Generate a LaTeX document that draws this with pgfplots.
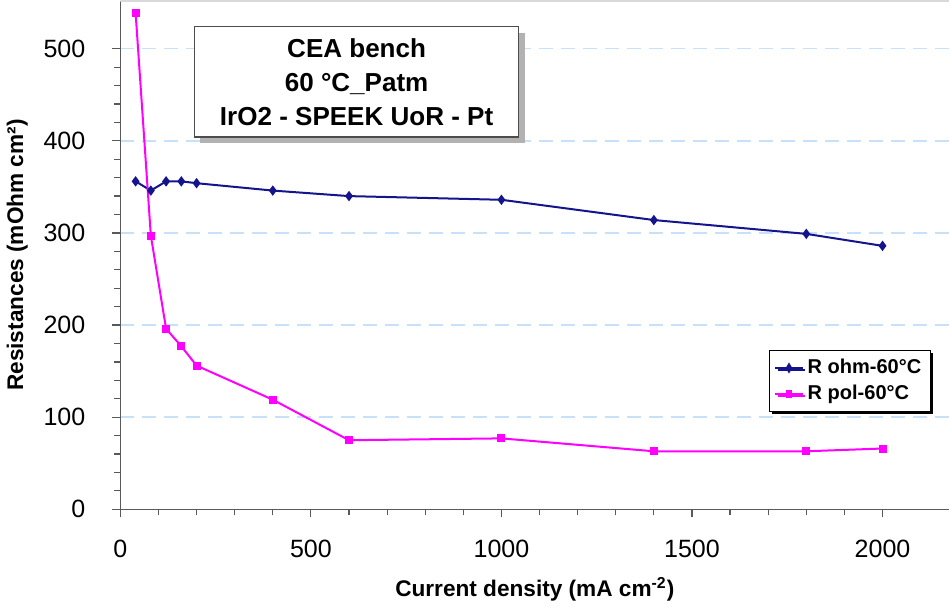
\documentclass[border=0pt]{standalone}
\usepackage{pgfplots}
\pgfplotsset{compat=1.18}
\usepackage{fontspec}
\setmainfont{Liberation Sans}
\usetikzlibrary{shadows}
\definecolor{ohm}{RGB}{20,20,140}
\definecolor{pol}{RGB}{255,0,255}
\definecolor{gridblue}{RGB}{200,225,250}
\begin{document}
\begin{tikzpicture}
\begin{axis}[
    scale only axis,
    width=414pt, height=254pt,
    xmin=0, xmax=2175, ymin=0, ymax=552,
    axis x line*=bottom, axis y line*=left,
    axis line style={gray!70!black, line width=0.8pt, -},
    xtick={0,500,...,2000}, ytick={0,100,...,500},
    minor x tick num=4, minor y tick num=4,
    tick align=outside,
    major tick length=4pt, minor tick length=3pt,
    tick style={gray!70!black, line width=0.6pt},
    ymajorgrids,
    major grid style={gridblue, dash pattern=on 7pt off 4pt, line width=0.7pt},
    /pgf/number format/assume math mode=true,
    /pgf/number format/1000 sep={},
    ticklabel style={font=\fontsize{12.5}{14}\selectfont},
    xticklabel style={yshift=-8pt},
    yticklabel style={xshift=-10pt},
    xlabel={\bfseries Current density (mA cm\textsuperscript{-2})},
    ylabel={\bfseries Resistances (mOhm cm²)},
    label style={font=\fontsize{11.3}{13}\selectfont},
    xlabel style={yshift=-3pt},
    ylabel style={yshift=1pt},
    legend style={at={(0.978,0.314)}, anchor=north east,
        draw=black, line width=0.6pt, fill=white,
        drop shadow={shadow xshift=1.2pt, shadow yshift=-1.2pt, fill=black, opacity=1},
        font=\fontsize{10}{12}\selectfont\bfseries,
        row sep=0pt, inner sep=2.5pt},
    legend image post style={xscale=0.8},
    legend cell align=left,
]
\draw[gray!30, line width=0.8pt] (rel axis cs:0,1) -- (rel axis cs:1,1);
\addplot[ohm, line width=1pt, mark=diamond*, mark size=1.8pt, mark options={solid}]
coordinates {(40,356) (80,346) (120,356) (160,356) (200,354) (400,346) (600,340) (1000,336) (1400,314) (1800,299) (2000,286)};
\addlegendentry{R ohm-60°C}
\addplot[pol, line width=1pt, mark=square*, mark size=1.5pt, mark options={solid}]
coordinates {(40,539) (80,297) (120,196) (160,177) (200,156) (400,119) (600,75) (1000,77) (1400,63) (1800,63) (2000,66)};
\addlegendentry{R pol-60°C}
\node[draw=gray!60!black, line width=0.6pt, fill=white, align=center,
    drop shadow={shadow xshift=3pt, shadow yshift=-3pt, fill=gray!60, opacity=1},
    font=\fontsize{13}{17}\selectfont\bfseries,
    minimum width=162pt, minimum height=55pt, inner sep=3pt]
    at (axis cs:620,464) {CEA bench\\60 °C\_Patm\\IrO2 - SPEEK UoR - Pt};
\end{axis}
\end{tikzpicture}
\end{document}
